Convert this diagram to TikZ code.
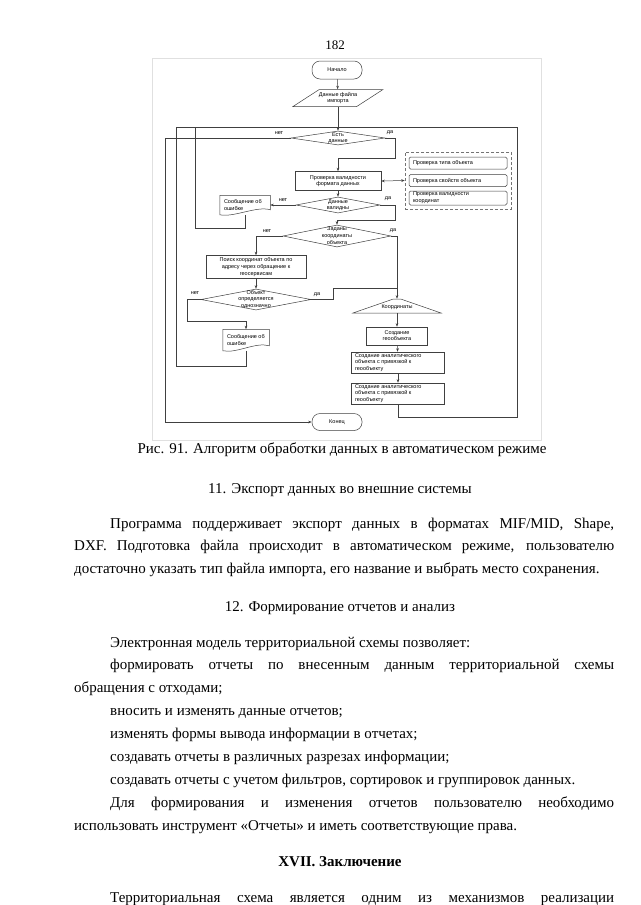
\documentclass[tikz,border=0pt]{standalone}
\usepackage{fontspec}
\setmainfont{Liberation Serif}
\newfontfamily\flowfont{Liberation Sans}
\usetikzlibrary{arrows.meta, positioning, shapes.geometric, calc}

% text of a shape, kept out of its size
\newcommand{\ctext}[1]{\smash{\raisebox{-1.3pt}{\makebox[0pt]{\begin{tabular}{@{}c@{}}#1\end{tabular}}}}}
\newcommand{\ltext}[2]{\smash{\raisebox{-1.3pt}{\makebox[0pt]{\parbox[c]{#1}{\raggedright #2}}}}}

\begin{document}
\begin{tikzpicture}[x=1pt, y=-1pt, >={Stealth[length=3.5pt, width=2.6pt]},
  line/.style={draw=black!75, line width=0.5pt},
  proc/.style={rectangle, draw=black!75, line width=0.5pt, inner sep=0pt,
               font=\flowfont\fontsize{5.5}{6.8}\selectfont},
  term/.style={proc, rounded corners=8pt},
  dec/.style={proc, diamond},
  io/.style={proc, trapezium, trapezium left angle=55, trapezium right angle=125,
             trapezium stretches=true, inner sep=1pt},
  doc/.style={proc, draw=none},
  chk/.style={proc, rounded corners=1.5pt, minimum width=98pt},
  lbl/.style={font=\flowfont\fontsize{5.5}{6.8}\selectfont, inner sep=0pt},
  body/.style={font=\fontsize{15}{22.9}\selectfont, inner sep=0pt},
  para/.style={body, text width=540pt, align=justify, anchor=base west}]
  \fill[white] (0,0) rectangle (640,905);
  \useasboundingbox (0,0) rectangle (640,905);

  \node[body, font=\fontsize{13}{15}\selectfont, anchor=base] (pgnum) at (335,49) {182};

  % Flowchart frame
  \draw[black!12] (152,58) rectangle (541,440);

  % Main column
  \node[term, minimum width=50pt, minimum height=18pt] (start) at (337,70) {\ctext{Начало}};
  \node[io, minimum width=90pt, minimum height=17pt] (inp) at (338,98) {\ctext{Данные файла\\импорта}};
  \node[dec, minimum width=94pt, minimum height=14pt] (hasdata) at (338,138) {\ctext{Есть\\данные}};
  \node[proc, minimum width=86pt, minimum height=19pt] (fmt) at (338,181) {\ctext{Проверка валидности\\формата данных}};
  \node[dec, minimum width=84pt, minimum height=16pt] (valid) at (338,205) {\ctext{Данные\\валидны}};
  \node[dec, minimum width=108pt, minimum height=22pt] (hascoord) at (337,236) {\ctext{Заданы\\координаты\\объекта}};

  % Checks
  \node[proc, densely dashed, draw=black!55, minimum width=106pt, minimum height=57pt] (checks) at (458,180.5) {};
  \node[chk, minimum height=12pt] (chk1) at (458,163) {\ltext{90pt}{Проверка типа объекта}};
  \node[chk, minimum height=12pt] (chk2) at (458,180.5) {\ltext{90pt}{Проверка свойств объекта}};
  \node[chk, minimum height=14pt] (chk3) at (458,198) {\ltext{90pt}{Проверка валидности\\координат}};

  % Error branch
  \node[doc, minimum width=50pt, minimum height=19pt] (err1) at (245,205) {\ltext{42pt}{Сообщение об\\ошибке}};
  \node[proc, minimum width=100pt, minimum height=23pt] (search) at (256,267) {\ctext{Поиск координат объекта по\\адресу через обращение к\\геосервисам}};
  \node[dec, minimum width=110pt, minimum height=21pt] (unique) at (256,299.5) {\ctext{Объект\\определяется\\однозначно}};
  \node[doc, minimum width=46pt, minimum height=21pt] (err2) at (246,340) {\ltext{38pt}{Сообщение об\\ошибке}};

  % Object branch
  \node[proc, trapezium, trapezium left angle=20, trapezium right angle=20, trapezium stretches=true,
        inner sep=1pt, minimum width=88pt, minimum height=14pt] (coord) at (397,306) {\raisebox{-2pt}{\ctext{Координаты}}};
  \node[proc, minimum width=61pt, minimum height=18pt] (geo) at (397,336) {\ctext{Создание\\геообъекта}};
  \node[proc, minimum width=93pt, minimum height=21pt] (obj1) at (398,362.5) {\ltext{86pt}{Создание аналитического\\объекта с привязкой к\\геообъекту}};
  \node[proc, minimum width=93pt, minimum height=21pt] (obj2) at (398,393.5) {\ltext{86pt}{Создание аналитического\\объекта с привязкой к\\геообъекту}};
  \node[term, minimum width=50pt, minimum height=17pt] (stop) at (337,422) {\ctext{Конец}};

  % Document outlines
  \foreach \n in {err1, err2} {
    \draw[line] (\n.north west) -- (\n.north east) -- ([yshift=5pt]\n.south east)
      .. controls ([xshift=-14pt, yshift=9pt]\n.south east) and ([xshift=14pt, yshift=-3pt]\n.south west) .. (\n.south west) -- cycle;
  }

  % Connectors
  \coordinate (join) at (338,127);
  \draw[line, ->] (start) -- (inp);
  \draw[line, ->] (inp) -- (hasdata);
  \draw[line, ->] (hasdata.east) -- ++(10,0) |- ($(fmt.north)+(0,-13)$) -- (fmt.north);
  \draw[line, ->] (hasdata.west) -- ++(-126,0) |- (stop.west);
  \draw[line, <->] (fmt.east) -- (checks.west);
  \draw[line, ->] (fmt) -- (valid);
  \draw[line, ->] (valid.west) -- (err1.east);
  \draw[line, ->] (valid.east) -- ++(15,0) |- ($(hascoord.north)+(0,-5)$) -- (hascoord.north);
  \draw[line, ->] (hascoord.west) -| (search.north);
  \draw[line, ->] (hascoord.east) -| (coord.north);
  \draw[line, ->] (search) -- (unique);
  \draw[line, ->] (unique.west) -- ++(-14,0) |- ($(err2.north)+(0,-8)$) -- (err2.north);
  \draw[line] (unique.east) -- ++(22,0) |- (397,288);
  \draw[line, ->] (coord) -- (geo);
  \draw[line, ->] (geo) -- (obj1);
  \draw[line, ->] (obj1) -- (obj2);

  % Return lines
  \draw[line] (obj2.south) |- (517,417) |- (join);
  \draw[line] (err2.south) |- (176,366) |- (join);
  \draw[line] (err1.south) |- (195,228) |- (join);

  % Branch labels
  \node[lbl] (n1) at (279,133) {нет};
  \node[lbl] (y1) at (390,133) {да};
  \node[lbl] (n2) at (283,200) {нет};
  \node[lbl] (y2) at (388,199) {да};
  \node[lbl] (n3) at (267,231) {нет};
  \node[lbl] (y3) at (393,231) {да};
  \node[lbl] (n4) at (195,293) {нет};
  \node[lbl] (y4) at (317,295) {да};

  % Page text
  \node[body, anchor=base] (caption) at (342,453) {Рис. 91. Алгоритм обработки данных в автоматическом режиме};
  \node[body, anchor=base] (sec11) at (340,493) {11. Экспорт данных во внешние системы};
  \node[para] (export) at (74,528) {\hspace*{36pt}Программа поддерживает экспорт данных в форматах MIF/MID, Shape,\linebreak
    DXF. Подготовка файла происходит в автоматическом режиме, пользователю\linebreak
    достаточно указать тип файла импорта, его название и выбрать место сохранения.};
  \node[body, anchor=base] (sec12) at (340,611) {12. Формирование отчетов и анализ};
  \node[para] (reports) at (74,647) {\hspace*{36pt}Электронная модель территориальной схемы позволяет:\par
    \hspace*{36pt}формировать отчеты по внесенным данным территориальной схемы\linebreak
    обращения с отходами;\par
    \hspace*{36pt}вносить и изменять данные отчетов;\par
    \hspace*{36pt}изменять формы вывода информации в отчетах;\par
    \hspace*{36pt}создавать отчеты в различных разрезах информации;\par
    \hspace*{36pt}создавать отчеты с учетом фильтров, сортировок и группировок данных.\par
    \hspace*{36pt}Для формирования и изменения отчетов пользователю необходимо\linebreak
    использовать инструмент «Отчеты» и иметь соответствующие права.};
  \node[body, anchor=base, font=\fontsize{15}{22.9}\selectfont\bfseries] (sec17) at (340,866) {XVII. Заключение};
  \node[para] (closing) at (74,902) {\parfillskip=0pt\hspace*{36pt}Территориальная схема является одним из механизмов реализации\par};
\end{tikzpicture}
\end{document}
